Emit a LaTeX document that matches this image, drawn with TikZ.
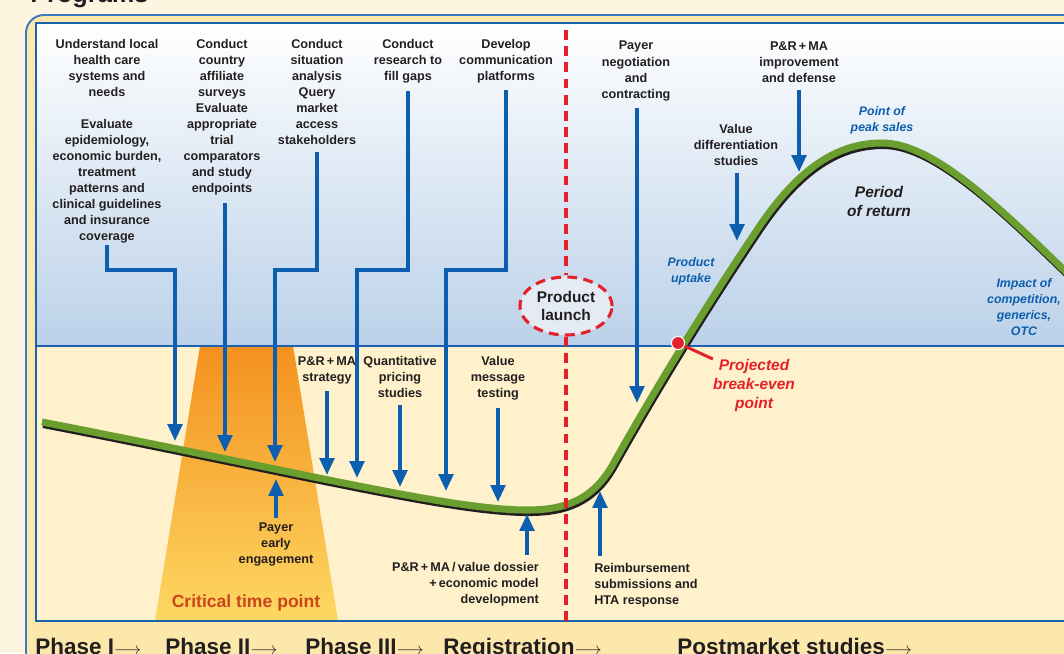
\documentclass[tikz,border=0pt]{standalone}
\usepackage{fontspec}
\setmainfont{Liberation Sans}
\usetikzlibrary{arrows.meta,shapes.geometric}

\definecolor{ink}{HTML}{231F20}
\definecolor{flowblue}{HTML}{0B5FAE}
\definecolor{launchred}{HTML}{E42129}
\definecolor{curvegreen}{HTML}{6A9E2F}
\definecolor{paper}{HTML}{FDF5DF}
\definecolor{band}{HTML}{FDE8AB}
\definecolor{lowfill}{HTML}{FEF1CC}
\definecolor{highfill}{HTML}{BBD1E9}
\definecolor{framed}{HTML}{3F78BF}
\definecolor{innerblue}{HTML}{1D62B0}
\definecolor{critorange}{HTML}{F4901E}
\definecolor{crityellow}{HTML}{FDD862}
\definecolor{crittext}{HTML}{C9461B}
\definecolor{launchfill}{HTML}{E4EBF5}

% sales curve, in pixel units of the picture
\newcommand{\salespath}{(42,422) .. controls (300,472) and (450,510) .. (527,510)
  .. controls (565,510) and (592,500) .. (612,466)
  .. controls (650,398) and (700,315) .. (757,230)
  .. controls (800,165) and (840,143) .. (882,143)
  .. controls (930,143) and (990,198) .. (1064,270) -- (1090,298)}
\newcommand{\phasearrow}{{\fontsize{11.5}{12}\selectfont$\longrightarrow$}}

\begin{document}
\begin{tikzpicture}[x=0.025cm,y=-0.025cm,
    >={Triangle[length=0.42cm,width=0.36cm]},
    task/.style={font=\fontsize{9}{11.4}\selectfont\bfseries,text=ink,align=center,inner sep=0pt},
    note/.style={font=\fontsize{8.8}{11.4}\selectfont\bfseries\itshape,text=flowblue,align=center,inner sep=0pt},
    flow/.style={draw=flowblue,line width=2.6pt,->,shorten <=5pt},
    phase/.style={font=\fontsize{16}{19}\selectfont\bfseries,text=ink,anchor=base west,inner sep=0pt},
    launchline/.style={draw=launchred,line width=2.2pt,dash pattern=on 7pt off 4.5pt}]
  \useasboundingbox (0,0) rectangle (1064,653);
  \clip (0,0) rectangle (1064,653);

  % frame and panels
  \fill[paper] (0,0) rectangle (1064,653);
  \filldraw[draw=framed,fill=band,line width=1.4pt,rounded corners=0.45cm] (26,15) rectangle (1120,720);
  \fill[lowfill] (36,346) rectangle (1100,621);
  \shade[top color=white,bottom color=highfill] (36,23) rectangle (1100,346);
  \shade[top color=critorange,bottom color=crityellow] (200,346) -- (293,346) -- (338,621) -- (155,621) -- cycle;
  \draw[innerblue,line width=1.4pt] (36,23) rectangle (1100,621);
  \draw[innerblue,line width=1.4pt] (36,346) -- (1100,346);

  \node[font=\fontsize{18}{20}\selectfont\bfseries,text=ink,anchor=base west,inner sep=0pt] (title) at (30,2) {Programs};
  \node[font=\fontsize{12.5}{14}\selectfont\bfseries,text=crittext] (crit) at (246,603) {Critical time point};

  % the curve
  \draw[ink,line width=5pt,xshift=0.8pt,yshift=-1.8pt] \salespath;
  \draw[curvegreen,line width=5pt] \salespath;

  % launch
  \coordinate (ltop) at (566,30);
  \coordinate (lbot) at (566,621);
  \node[ellipse,draw=launchred,line width=2.2pt,dash pattern=on 7pt off 4.5pt,fill=launchfill,
    minimum width=2.3cm,minimum height=1.45cm,inner sep=0pt,align=center,text=ink,
    font=\fontsize{11}{12.8}\selectfont\bfseries] (launch) at (566,306) {Product\\launch};
  \draw[launchline] (ltop) -- (launch.north);
  \draw[launchline] (launch.south) -- (lbot);

  % tasks above the curve
  \node[task,anchor=north] (t1) at (107,39) {Understand local\\health care\\systems and\\needs\\[11.4pt]Evaluate\\epidemiology,\\economic burden,\\treatment\\patterns and\\clinical guidelines\\and insurance\\coverage};
  \node[task,anchor=north] (t2) at (222,39) {Conduct\\country\\affiliate\\surveys\\Evaluate\\appropriate\\trial\\comparators\\and study\\endpoints};
  \node[task,anchor=north] (t3) at (317,39) {Conduct\\situation\\analysis\\Query\\market\\access\\stakeholders};
  \node[task,anchor=north] (t4) at (408,39) {Conduct\\research to\\fill gaps};
  \node[task,anchor=north] (t5) at (506,39) {Develop\\communication\\platforms};
  \node[task,anchor=north] (t6) at (636,41) {Payer\\negotiation\\and\\contracting};
  \node[task,anchor=north] (t7) at (799,41) {P\&R\,+\,MA\\improvement\\and defense};
  \node[task,anchor=north] (t8) at (736,124) {Value\\differentiation\\studies};
  \node[task,anchor=north] (b1) at (327,356) {P\&R\,+\,MA\\strategy};
  \node[task,anchor=north] (b2) at (400,356) {Quantitative\\pricing\\studies};
  \node[task,anchor=north] (b3) at (498,356) {Value\\message\\testing};

  % tasks below the curve
  \node[task,anchor=north] (u1) at (276,522) {Payer\\early\\engagement};
  \node[task,anchor=north east,align=right] (u2) at (539,562) {P\&R\,+\,MA\,/\,value dossier\\+\,economic model\\development};
  \node[task,anchor=north west,align=left] (u3) at (594,563) {Reimbursement\\submissions and\\HTA response};

  % notes on the curve
  \node[note,anchor=north] (peak) at (882,106) {Point of\\peak sales};
  \node[note,anchor=north] (uptake) at (691,257) {Product\\uptake};
  \node[note,anchor=north] (impact) at (1024,278) {Impact of\\competition,\\generics,\\OTC};
  \node[font=\fontsize{11}{13.5}\selectfont\bfseries\itshape,text=ink,align=center,inner sep=0pt,anchor=north] (period) at (879,186) {Period\\of return};

  % arrow tips
  \coordinate (rail) at (0,270);
  \coordinate (a1) at (175,441);
  \coordinate (a2) at (225,452);
  \coordinate (a3) at (275,462);
  \coordinate (a4) at (357,478);
  \coordinate (a5) at (446,491);
  \coordinate (a6) at (327,475);
  \coordinate (a7) at (400,487);
  \coordinate (a8) at (498,502);
  \coordinate (a9) at (276,479);
  \coordinate (a10) at (527,514);
  \coordinate (a11) at (600,491);
  \coordinate (a12) at (637,403);
  \coordinate (a13) at (737,241);
  \coordinate (a14) at (799,172);

  \draw[flow,shorten <=1pt] (t1.south) -- (t1.south |- rail) -| (a1);
  \draw[flow] (t2.south -| a2) -- (a2);
  \draw[flow] (t3.south) -- (t3.south |- rail) -| (a3);
  \draw[flow] (t4.south) -- (t4.south |- rail) -| (a4);
  \draw[flow] (t5.south) -- (t5.south |- rail) -| (a5);
  \draw[flow] (b1.south) -- (a6);
  \draw[flow] (b2.south) -- (a7);
  \draw[flow] (b3.south) -- (a8);
  \draw[flow] (t6.south -| a12) -- (a12);
  \draw[flow] (t8.south -| a13) -- (a13);
  \draw[flow] (t7.south) -- (a14);
  \draw[flow,shorten <=3pt] (u1.north) -- (a9);
  \draw[flow] (u2.north -| a10) -- (a10);
  \draw[flow] (u3.north -| a11) -- (a11);

  % break-even
  \node[font=\fontsize{11}{13.5}\selectfont\bfseries\itshape,text=launchred,align=center,inner sep=0pt,anchor=north] (bep) at (754,359) {Projected\\break-even\\point};
  \node[circle,fill=launchred,draw=white,line width=0.8pt,minimum size=0.33cm,inner sep=0pt] (dot) at (678,343) {};
  \draw[launchred,line width=2.1pt] (dot) -- (bep.north west);

  % phases
  \node[phase] (p1) at (35,654) {Phase I\phasearrow};
  \node[phase] (p2) at (165,654) {Phase II\phasearrow};
  \node[phase] (p3) at (305,654) {Phase III\phasearrow};
  \node[phase] (p4) at (443,654) {Registration\phasearrow};
  \node[phase] (p5) at (677,654) {Postmarket studies\phasearrow};
\end{tikzpicture}
\end{document}
